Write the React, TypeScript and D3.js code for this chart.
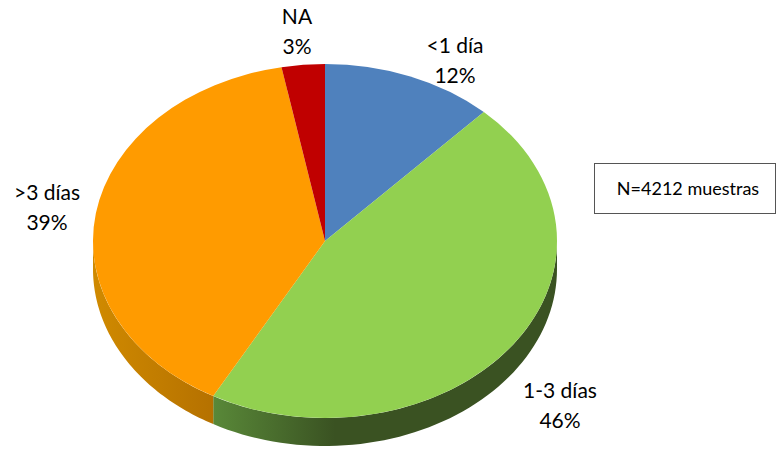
import React from 'react';
import * as d3 from 'd3';

// data
const categories = ['<1 día', '1-3 días', '>3 días', 'NA'];
const percents = [12, 46, 39, 3];
const topColors = ['#4f81bd', '#92d050', '#ff9b00', '#c00000'];
const sideStops = [
  ['#3d6591', '#2f4e72'],
  ['#5b8c3a', '#3a5222'],
  ['#d08a00', '#9a5800'],
  ['#900000', '#700000'],
];
const noteText = 'N=4212 muestras';

// label layout (text anchors, not marks)
const labelAnchors: [number, number][] = [
  [455, 53],
  [560, 398],
  [47, 200],
  [297, 24],
];

const W = 776;
const H = 455;
const cx = 325;
const cy = 241;
const rx = 232;
const ry = 177;
const depth = 28;

const App = () => {
  const pie = d3.pie<number>().sort(null).value((d) => d).startAngle(0).endAngle(2 * Math.PI);
  const arcs = pie(percents);
  const arcGen = d3.arc<d3.PieArcDatum<number>>().innerRadius(0).outerRadius(rx);

  const pt = (a: number, dy = 0): [number, number] => [
    cx + rx * Math.sin(a),
    cy - ry * Math.cos(a) + dy,
  ];

  // sides only where the rim faces the viewer (angles between PI/2 and 3PI/2)
  const sidePath = (a0: number, a1: number) => {
    const s = Math.max(a0, Math.PI / 2);
    const e = Math.min(a1, (3 * Math.PI) / 2);
    if (e <= s) return null;
    const n = 60;
    const top = d3.range(n + 1).map((i) => pt(s + ((e - s) * i) / n));
    const bottom = d3.range(n + 1).map((i) => pt(e - ((e - s) * i) / n, depth));
    return d3.line()([...top, ...bottom]) + 'Z';
  };

  return (
    <svg width={W} height={H} style={{ position: 'absolute', left: 0, top: 0 }}>
      <defs>
        {sideStops.map((s, i) => (
          <linearGradient
            key={i}
            id={`side${i}`}
            gradientUnits="userSpaceOnUse"
            x1={cx - rx}
            x2={cx + 10}
            y1={0}
            y2={0}
          >
            <stop offset="0" stopColor={s[0]} />
            <stop offset="1" stopColor={s[1]} />
          </linearGradient>
        ))}
        <linearGradient id="side1b" gradientUnits="userSpaceOnUse" x1={cx - 120} x2={cx + 10} y1={0} y2={0}>
          <stop offset="0" stopColor={sideStops[1][0]} />
          <stop offset="1" stopColor={sideStops[1][1]} />
        </linearGradient>
      </defs>
      <rect width={W} height={H} fill="#ffffff" />

      {arcs.map((a, i) => {
        const d = sidePath(a.startAngle, a.endAngle);
        return d ? <path key={`s${i}`} d={d} fill={i === 1 ? 'url(#side1b)' : `url(#side${i})`} /> : null;
      })}

      <g transform={`translate(${cx},${cy}) scale(1,${ry / rx})`}>
        {arcs.map((a, i) => (
          <path key={`t${i}`} d={arcGen(a) || ''} fill={topColors[i]} />
        ))}
      </g>

      <g fontFamily="Lato, 'Open Sans', sans-serif" fontSize={21} fill="#000" textAnchor="middle">
        {categories.map((c, i) => (
          <text key={c} x={labelAnchors[i][0]} y={labelAnchors[i][1]}>
            <tspan x={labelAnchors[i][0]}>{c}</tspan>
            <tspan x={labelAnchors[i][0]} dy={30}>{`${percents[i]}%`}</tspan>
          </text>
        ))}
      </g>

      <rect x={594.5} y={163.5} width={181} height={50} fill="#fff" stroke="#555" strokeWidth={1} />
      <text
        x={688}
        y={195}
        textAnchor="middle"
        fontFamily="Lato, 'Open Sans', sans-serif"
        fontSize={18}
        fill="#000"
      >
        {noteText}
      </text>
    </svg>
  );
};

export default App;
